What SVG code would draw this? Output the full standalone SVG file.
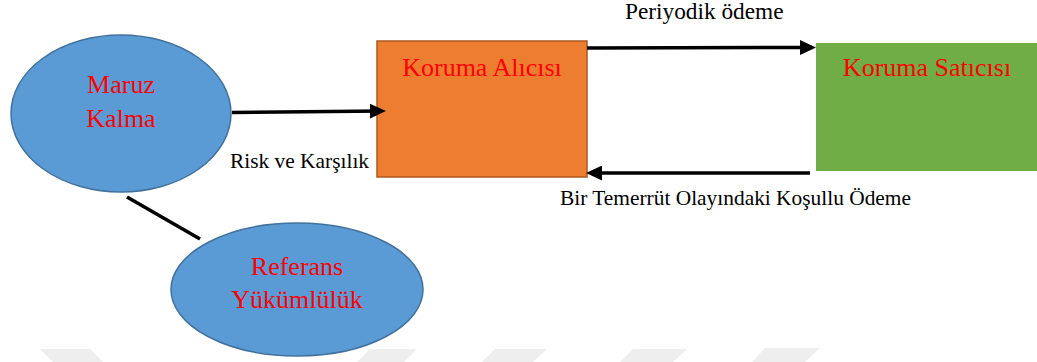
<svg xmlns="http://www.w3.org/2000/svg" width="1037" height="362" viewBox="0 0 1037 362">
<defs>
<style>
.lbl{font-family:"Liberation Serif","Times New Roman",serif;fill:#FF0000;font-size:26px;text-anchor:middle}
.cap{font-family:"Liberation Serif","Times New Roman",serif;fill:#000;font-size:21.4px}
.ell{fill:#5B9BD5;stroke:#41719C;stroke-width:1.5}
.conn{stroke:#000;stroke-width:3.5;fill:none}
.wm{fill:#eeeeee}
</style>
<marker id="ah" markerUnits="userSpaceOnUse" markerWidth="16" markerHeight="15" refX="12" refY="7.5" orient="auto">
<path d="M0,0 L16,7.5 L0,15 Z" fill="#000"/>
</marker>
</defs>
<rect width="1037" height="362" fill="#fff"/>
<g id="watermark">
<polygon class="wm" points="40,349 90,349 103,362 53,362"/>
<polygon class="wm" points="370,349 417,349 404,362 357,362"/>
<polygon class="wm" points="495,349 547,349 533,362 482,362"/>
<polygon class="wm" points="633,349 687,349 673,362 620,362"/>
<polygon class="wm" points="765,348 820,348 805,362 752,362"/>
</g>
<g id="node-maruz">
<ellipse class="ell" cx="121" cy="113.5" rx="110" ry="78.5"/>
<text class="lbl" x="121" y="93">Maruz</text>
<text class="lbl" x="121" y="127">Kalma</text>
</g>
<g id="node-referans">
<ellipse class="ell" cx="297" cy="289.5" rx="126" ry="66.5"/>
<text class="lbl" x="297" y="275">Referans</text>
<text class="lbl" x="297" y="308">Yükümlülük</text>
</g>
<g id="node-alici">
<rect x="377" y="41" width="210" height="136" fill="#ED7D31" stroke="#AE5A21" stroke-width="1.5"/>
<text class="lbl" x="482" y="76">Koruma Alıcısı</text>
</g>
<g id="node-satici">
<rect x="816" y="43" width="221" height="128" fill="#70AD47"/>
<text class="lbl" x="927" y="76">Koruma Satıcısı</text>
</g>
<g id="connectors">
<line class="conn" x1="232" y1="112.5" x2="382" y2="111" marker-end="url(#ah)"/>
<line class="conn" x1="587" y1="48" x2="812" y2="47.5" marker-end="url(#ah)"/>
<line class="conn" x1="810" y1="173" x2="590" y2="173" marker-end="url(#ah)"/>
<line class="conn" x1="127" y1="197" x2="200" y2="239" stroke-width="4"/>
</g>
<g id="labels">
<text class="cap" x="625" y="19" style="font-size:23.3px">Periyodik ödeme</text>
<text class="cap" x="230" y="168">Risk ve Karşılık</text>
<text class="cap" x="560" y="205">Bir Temerrüt Olayındaki Koşullu Ödeme</text>
</g>
</svg>
